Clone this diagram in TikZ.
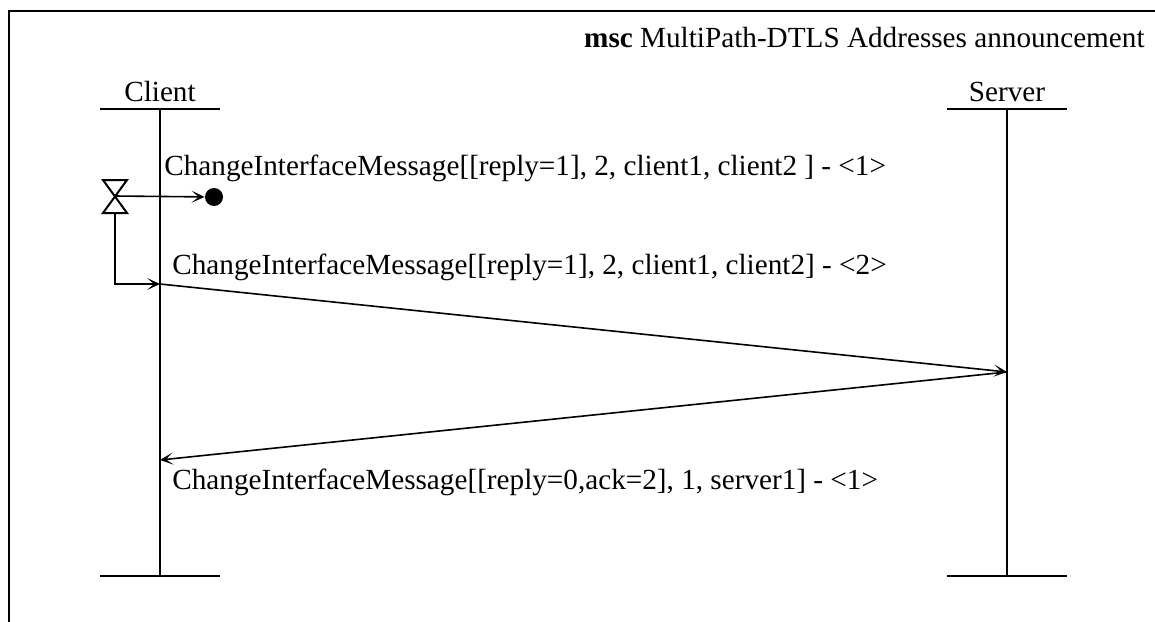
\documentclass[tikz,border=0pt]{standalone}
\usepackage{fontspec}
\setmainfont{Liberation Serif}
\usetikzlibrary{arrows.meta}
\begin{document}
\begin{tikzpicture}[x=0.5pt,y=-0.5pt,
  line/.style={line width=1pt},
  txt/.style={font=\fontsize{14.6}{18}\selectfont, inner sep=0pt},
  msg/.style={line width=0.8pt,-{Stealth[length=6.5pt,width=6pt,inset=3.5pt]}},
  ]
\useasboundingbox (0,0) rectangle (1155,621);
% frame
\draw[line] (9,640) -- (9,11) -- (1170,11);
\node[txt,anchor=base east] (title) at (1145,47) {\textbf{msc} MultiPath-DTLS Addresses announcement};
% instances
\node[txt,anchor=base] (client) at (160,101) {Client};
\node[txt,anchor=base] (server) at (1007,101) {Server};
\coordinate (cT) at (160,109); \coordinate (cB) at (160,576);
\coordinate (sT) at (1007,109); \coordinate (sB) at (1007,576);
\draw[line] (100,109) -- (220,109);
\draw[line] (947,109) -- (1067,109);
\draw[line] (cT) -- (cB);
\draw[line] (sT) -- (sB);
\draw[line] (100,576) -- (220,576);
\draw[line] (947,576) -- (1067,576);
% timer (hourglass)
\coordinate (tm) at (115,196);
\draw[line] (103,180) -- (127,180) -- (103,213) -- (127,213) -- cycle;
\node[circle,fill=black,inner sep=0pt,minimum size=9pt] (lost) at (214,197) {};
\draw[msg] (tm) -- (lost);
% messages
\coordinate (m2s) at (160,284);
\coordinate (m2e) at (1007,372);
\coordinate (m3e) at (160,460);
\draw[msg] (115,213) -- (115,284) -- (m2s);
\draw[msg] (m2s) -- (m2e);
\draw[msg] (m2e) -- (m3e);
\node[txt,anchor=base west] (l1) at (164,175) {ChangeInterfaceMessage[[reply=1], 2, client1, client2 ] - <1>};
\node[txt,anchor=base west] (l2) at (172,274) {ChangeInterfaceMessage[[reply=1], 2, client1, client2] - <2>};
\node[txt,anchor=base west] (l3) at (172,489) {ChangeInterfaceMessage[[reply=0,ack=2], 1, server1] - <1>};
\end{tikzpicture}
\end{document}
